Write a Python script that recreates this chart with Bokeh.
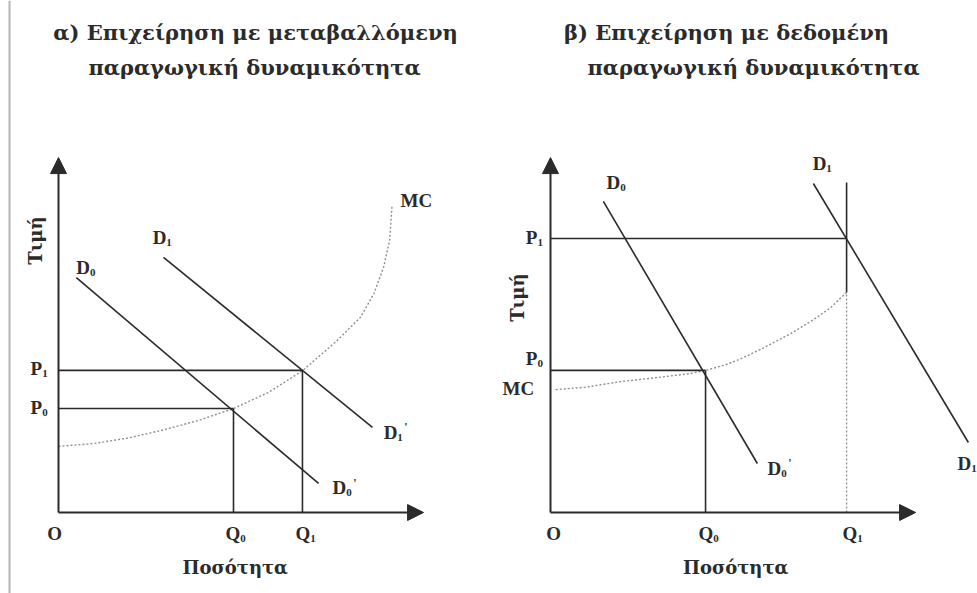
import math
from bokeh.plotting import figure
from bokeh.layouts import row
from bokeh.models import Range1d, Arrow, NormalHead, Span
from bokeh.core.properties import value
from bokeh.embed import file_html
from bokeh.resources import INLINE

# ---------------- data: panel α (variable capacity) ----------------
A_Q = [5.0, 6.97]            # Q0, Q1
A_P = [2.97, 4.06]           # P0, P1
A_D0_Q = [0.51, 7.43]
A_D0_P = [6.71, 0.83]
A_D1_Q = [3.0, 8.97]
A_D1_P = [7.29, 2.43]
A_MC_Q = [0.0, 1.0, 2.0, 3.0, 4.0, 5.0, 6.0, 6.97, 7.96, 8.63, 9.01, 9.29, 9.46, 9.53]
A_MC_P = [1.89, 1.97, 2.13, 2.36, 2.63, 2.97, 3.43, 4.05, 4.91, 5.58, 6.25, 7.01, 7.77, 8.77]
A_AXIS = [10.43, 10.14]      # ends of quantity / price axes

# ---------------- data: panel β (given capacity) ----------------
B_Q = [4.43, 8.46]           # Q0, Q1 (capacity)
B_P = [4.06, 7.83]           # P0, P1
B_D0_Q = [1.51, 5.91]
B_D0_P = [8.89, 1.40]
B_D1_Q = [7.51, 11.94]
B_D1_P = [9.40, 2.00]
B_CAP_TOP = 9.43
B_MC_Q = [0.15, 1.0, 2.0, 3.0, 4.0, 4.43, 5.0, 5.5, 6.0, 6.86, 7.5, 8.0, 8.46]
B_MC_P = [3.51, 3.58, 3.74, 3.85, 3.97, 4.06, 4.22, 4.42, 4.66, 5.11, 5.5, 5.85, 6.29]
B_AXIS = [10.43, 10.14]

TITLES_A = ["α) Επιχείρηση με μεταβαλλόμενη", "παραγωγική δυναμικότητα"]
TITLES_B = ["β) Επιχείρηση με δεδομένη", "παραγωγική δυναμικότητα"]
X_LABEL = "Ποσότητα"
Y_LABEL = "Τιμή"

# ---------------- style ----------------
U = 35.0                     # pixels per unit
INK = "#2b2b2b"
MCC = "#8f8f8f"
LATIN = value("Liberation Serif")
GREEK = value("DejaVu Serif")
H = 593
Y0, Y1 = -81 / U, 512 / U


def make_fig(w, x0):
    p = figure(width=w, height=H, x_range=Range1d(x0, x0 + w / U), y_range=Range1d(Y0, Y1),
               output_backend="svg", toolbar_location=None, x_axis_type=None, y_axis_type=None,
               min_border=0, min_border_left=0, min_border_right=0, min_border_top=0, min_border_bottom=0)
    p.grid.visible = False
    p.outline_line_color = None
    p.background_fill_color = "white"
    p.border_fill_color = "white"
    return p


def txt(p, x, y, s, size=20, align="left", angle=0.0, font=LATIN, color=INK):
    p.text(x=[x], y=[y], text=[s], text_font=font, text_font_style="bold",
           text_font_size=f"{size}px", text_align=align, text_baseline="middle",
           text_color=color, angle=angle)


def sym(p, x, y, main, sub, prime=False, size=19):
    txt(p, x, y, main, size)
    w = {"P": 0.62, "D": 0.72, "Q": 0.78}[main] * size
    txt(p, x + w / U, y - 5 / U, sub, 11)
    if prime:
        txt(p, x + (w + 7) / U, y + 5 / U, "'", 12)


def axes(p, ax):
    head = lambda: NormalHead(size=16, fill_color=INK, line_color=INK)
    p.add_layout(Arrow(end=head(), x_start=0, y_start=0, x_end=ax[0], y_end=0,
                       line_color=INK, line_width=2))
    p.add_layout(Arrow(end=head(), x_start=0, y_start=0, x_end=0, y_end=ax[1],
                       line_color=INK, line_width=2))


LW = 1.6

# ================= panel α =================
pa = make_fig(488, -58 / U)
pa.add_layout(Span(location=-49 / U, dimension="height", line_color="#b5b5b5", line_width=2))
axes(pa, A_AXIS)
pa.line(A_MC_Q, A_MC_P, line_color=MCC, line_width=1.4, line_dash="2 2")
pa.line(A_D0_Q, A_D0_P, line_color=INK, line_width=LW)
pa.line(A_D1_Q, A_D1_P, line_color=INK, line_width=LW)
for q, pr in zip(A_Q, A_P):
    pa.line([0, q], [pr, pr], line_color=INK, line_width=LW)
    pa.line([q, q], [0, pr], line_color=INK, line_width=LW)

txt(pa, 5.63, 13.71, TITLES_A[0], 21, "center", font=GREEK)
txt(pa, 5.60, 12.71, TITLES_A[1], 21, "center", font=GREEK)
sym(pa, -0.80, A_P[1] + 0.05, "P", "1")
sym(pa, -0.80, A_P[0] + 0.03, "P", "0")
txt(pa, -0.11, -0.6, "O", 19, "center")
sym(pa, A_Q[0] - 0.23, -0.6, "Q", "0")
sym(pa, A_Q[1] - 0.20, -0.6, "Q", "1")
txt(pa, 5.05, -1.57, X_LABEL, 18, "center", font=GREEK)
txt(pa, -0.66, 7.77, Y_LABEL, 18, "center", angle=math.pi / 2, font=GREEK)
sym(pa, A_D0_Q[0], A_D0_P[0] + 0.29, "D", "0")
sym(pa, A_D1_Q[0] - 0.31, A_D1_P[0] + 0.57, "D", "1")
sym(pa, A_D0_Q[1] + 0.40, A_D0_P[1] - 0.12, "D", "0", prime=True)
sym(pa, A_D1_Q[1] + 0.32, A_D1_P[1] - 0.14, "D", "1", prime=True)
txt(pa, A_MC_Q[-1] + 0.24, A_MC_P[-1] + 0.14, "MC", 19)

# ================= panel β =================
pb = make_fig(489, -62 / U)
axes(pb, B_AXIS)
pb.line(B_MC_Q, B_MC_P, line_color=MCC, line_width=1.4, line_dash="2 2")
pb.line(B_D0_Q, B_D0_P, line_color=INK, line_width=LW)
pb.line(B_D1_Q, B_D1_P, line_color=INK, line_width=LW)
# P0 / Q0
pb.line([0, B_Q[0]], [B_P[0], B_P[0]], line_color=INK, line_width=LW)
pb.line([B_Q[0], B_Q[0]], [0, B_P[0]], line_color=INK, line_width=LW)
# P1 and capacity line at Q1
pb.line([0, B_Q[1]], [B_P[1], B_P[1]], line_color=INK, line_width=LW)
pb.line([B_Q[1], B_Q[1]], [B_MC_P[-1], B_CAP_TOP], line_color=INK, line_width=LW)
pb.line([B_Q[1], B_Q[1]], [0, B_MC_P[-1]], line_color=MCC, line_width=1.3, line_dash="2 2")

txt(pb, 5.03, 13.71, TITLES_B[0], 21, "center", font=GREEK)
txt(pb, 5.80, 12.71, TITLES_B[1], 21, "center", font=GREEK)
sym(pb, -0.71, B_P[1] + 0.03, "P", "1")
sym(pb, -0.71, B_P[0] + 0.34, "P", "0")
txt(pb, -1.37, B_MC_P[0] + 0.03, "MC", 19)
txt(pb, 0.09, -0.6, "O", 19, "center")
sym(pb, B_Q[0] - 0.20, -0.6, "Q", "0")
sym(pb, B_Q[1] - 0.12, -0.6, "Q", "1")
txt(pb, 5.29, -1.57, X_LABEL, 18, "center", font=GREEK)
txt(pb, -0.94, 6.14, Y_LABEL, 18, "center", angle=math.pi / 2, font=GREEK)
sym(pb, B_D0_Q[0] + 0.09, B_D0_P[0] + 0.54, "D", "0")
sym(pb, B_D1_Q[0] - 0.02, B_D1_P[0] + 0.57, "D", "1")
sym(pb, B_D0_Q[1] + 0.29, B_D0_P[1] - 0.14, "D", "0", prime=True)
sym(pb, B_D1_Q[1] - 0.31, B_D1_P[1] - 0.60, "D", "1")

layout = row(pa, pb, spacing=0)
open("out.html", "w").write(file_html(layout, INLINE))
